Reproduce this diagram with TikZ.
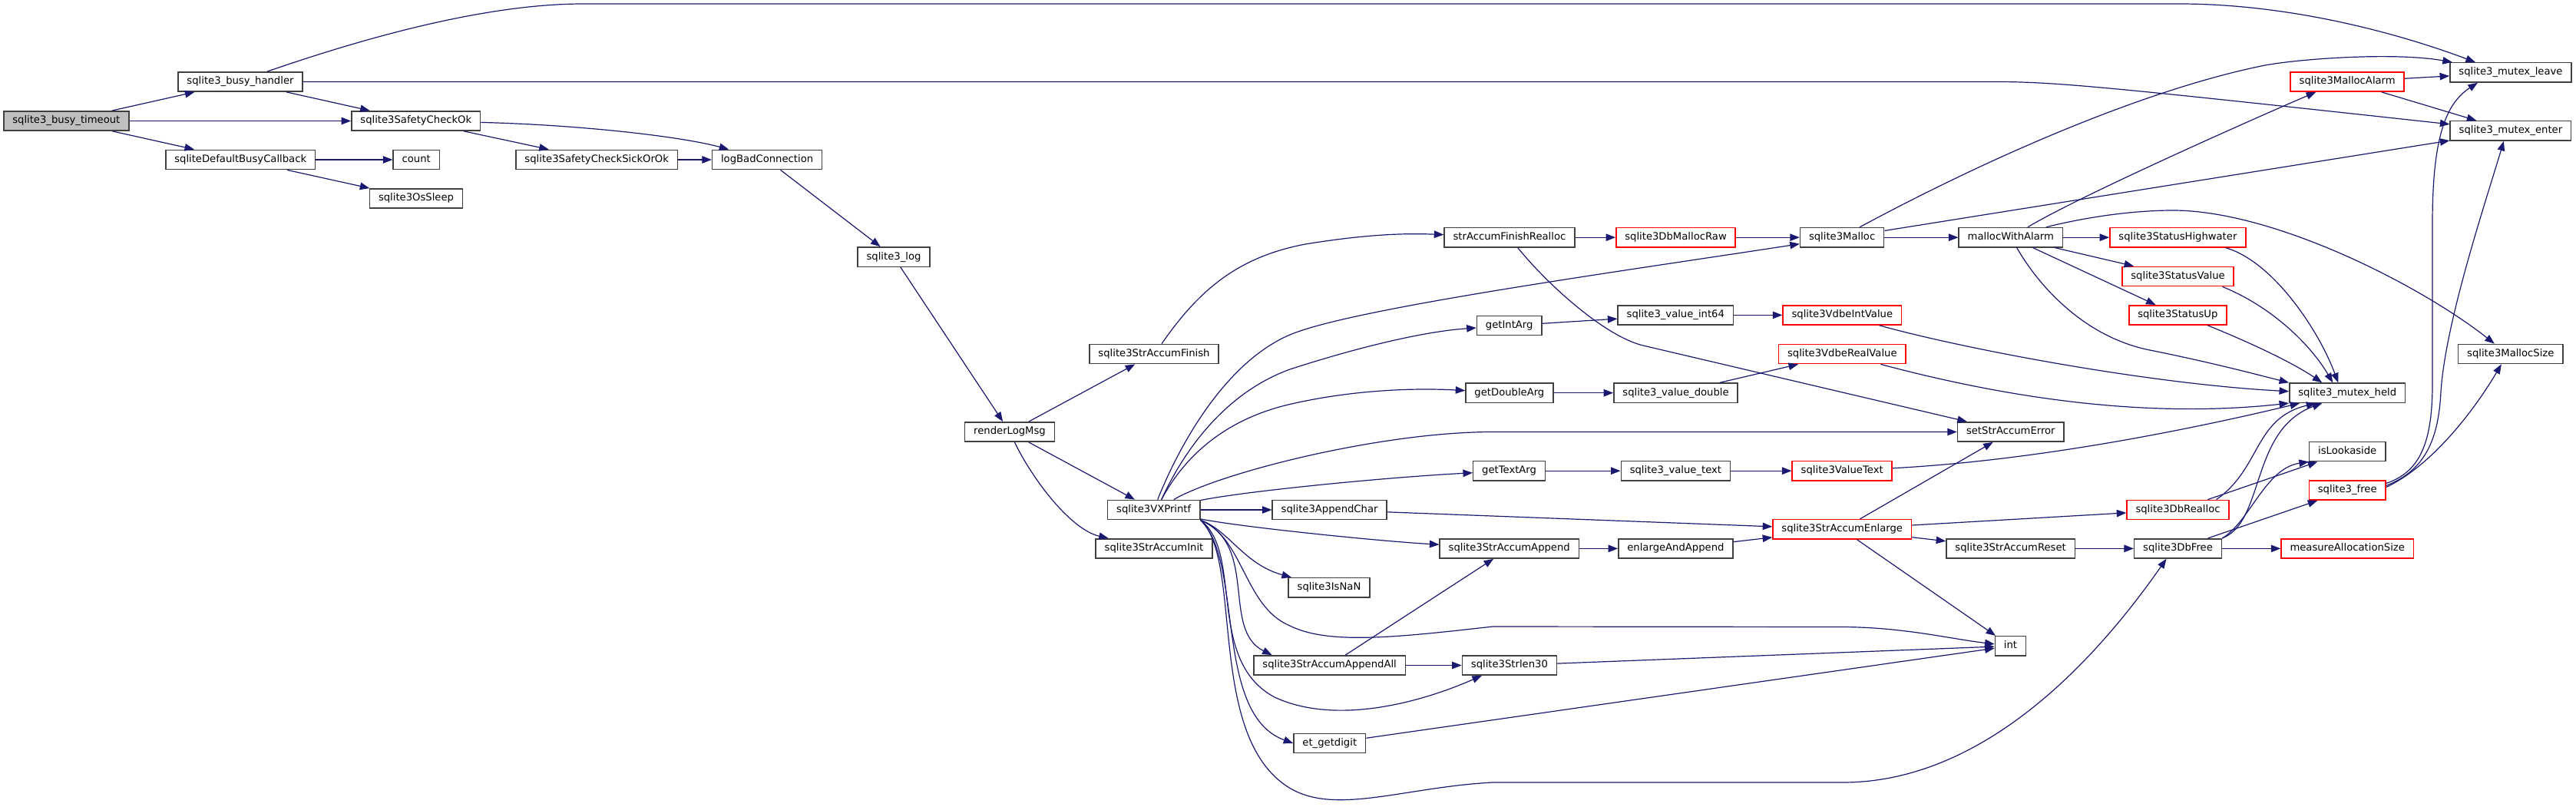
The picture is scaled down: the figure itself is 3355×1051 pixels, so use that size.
\documentclass[tikz,border=0pt]{standalone}
\usepackage{fontspec}
\setmainfont{DejaVu Sans}
\usetikzlibrary{arrows.meta}
\definecolor{edgeblue}{HTML}{191970}
\definecolor{boxgray}{HTML}{404040}
\definecolor{rootfill}{HTML}{BFBFBF}
\definecolor{boxred}{HTML}{FF0000}
\begin{document}
\begin{tikzpicture}[x=1pt,y=-1pt,
  fnbox/.style={draw=boxgray, line width=1.5pt, fill=white, inner xsep=11.5pt, inner ysep=0pt,
    minimum height=25.3pt, text height=9.8pt, text depth=3pt,
    font=\fontsize{13.17}{15}\selectfont, anchor=center},
  fnred/.style={fnbox, draw=boxred},
  fnroot/.style={fnbox, fill=rootfill},
  callarrow/.style={draw=edgeblue, line width=1.2pt, -{Triangle[length=12.5pt,width=9.5pt]}, line join=round}
]
\fill[white] (0,0) rectangle (3355,1051);
\useasboundingbox (0,0) rectangle (3355,1051);

% nodes
\node[fnroot] (T)   at (86.3,157.5)  {sqlite3\_busy\_timeout};
\node[fnbox]  (H)   at (313,106.5)   {sqlite3\_busy\_handler};
\node[fnbox]  (SCO) at (541.8,157.5) {sqlite3SafetyCheckOk};
\node[fnbox]  (DBC) at (313.2,208)   {sqliteDefaultBusyCallback};
\node[fnbox]  (CNT) at (542.2,208)   {count};
\node[fnbox]  (OSS) at (542,258.5)   {sqlite3OsSleep};
\node[fnbox]  (SSO) at (777.2,208)   {sqlite3SafetyCheckSickOrOk};
\node[fnbox]  (LBC) at (999.1,208)   {logBadConnection};
\node[fnbox]  (LOG) at (1164,334.6)  {sqlite3\_log};
\node[fnbox]  (RLM) at (1315,562.5)  {renderLogMsg};
\node[fnbox]  (SAF) at (1503,461)    {sqlite3StrAccumFinish};
\node[fnbox]  (VX)  at (1502.7,664)  {sqlite3VXPrintf};
\node[fnbox]  (SAI) at (1503,714.4)  {sqlite3StrAccumInit};
\node[fnbox]  (FR)  at (1965.9,309.2) {strAccumFinishRealloc};
\node[fnbox]  (GIA) at (1965.7,424)  {getIntArg};
\node[fnbox]  (GDA) at (1965.9,511.7) {getDoubleArg};
\node[fnbox]  (GTA) at (1965.6,613.2) {getTextArg};
\node[fnbox]  (AC)  at (1731.6,664)  {sqlite3AppendChar};
\node[fnbox]  (IN)  at (1731,765.3)  {sqlite3IsNaN};
\node[fnbox]  (AAA) at (1731.6,866.5) {sqlite3StrAccumAppendAll};
\node[fnbox]  (ETG) at (1731.8,968)  {et\_getdigit};
\node[fnbox]  (SAA) at (1965.7,714.4) {sqlite3StrAccumAppend};
\node[fnbox]  (SL)  at (1965.9,866.5) {sqlite3Strlen30};
\node[fnred]  (DMR) at (2182.5,309.2) {sqlite3DbMallocRaw};
\node[fnbox]  (VI64) at (2182.3,410.4) {sqlite3\_value\_int64};
\node[fnbox]  (VDB) at (2182.5,511.7) {sqlite3\_value\_double};
\node[fnbox]  (VTX) at (2182.4,613.2) {sqlite3\_value\_text};
\node[fnbox]  (EAA) at (2182.4,714.4) {enlargeAndAppend};
\node[fnbox]  (SM)  at (2399.1,309.2) {sqlite3Malloc};
\node[fnred]  (VIV) at (2399.3,410.4) {sqlite3VdbeIntValue};
\node[fnred]  (VRV) at (2399.3,461)  {sqlite3VdbeRealValue};
\node[fnred]  (VT)  at (2399.2,613.2) {sqlite3ValueText};
\node[fnred]  (SAE) at (2399.2,689.3) {sqlite3StrAccumEnlarge};
\node[fnbox]  (MWA) at (2618.8,309.2) {mallocWithAlarm};
\node[fnbox]  (SSE) at (2618.8,562.5) {setStrAccumError};
\node[fnbox]  (SAR) at (2618.6,714.4) {sqlite3StrAccumReset};
\node[fnbox]  (INT) at (2618.4,841.3) {int};
\node[fnred]  (SH)  at (2836.4,309.2) {sqlite3StatusHighwater};
\node[fnred]  (SV)  at (2836.5,360)  {sqlite3StatusValue};
\node[fnred]  (SU)  at (2836.3,410.4) {sqlite3StatusUp};
\node[fnred]  (DR)  at (2836.5,664)  {sqlite3DbRealloc};
\node[fnbox]  (DF)  at (2836.5,714.4) {sqlite3DbFree};
\node[fnred]  (MA)  at (3057.2,106.5) {sqlite3MallocAlarm};
\node[fnbox]  (MH)  at (3057.2,511.7) {sqlite3\_mutex\_held};
\node[fnbox]  (IL)  at (3057.2,588)  {isLookaside};
\node[fnred]  (SF)  at (3057.2,638.5) {sqlite3\_free};
\node[fnred]  (MAS) at (3057.2,714.4) {measureAllocationSize};
\node[fnbox]  (ML)  at (3269.9,94.4) {sqlite3\_mutex\_leave};
\node[fnbox]  (ME)  at (3269.9,170.4) {sqlite3\_mutex\_enter};
\node[fnbox]  (MS)  at (3269.8,461)  {sqlite3MallocSize};

% edges
\draw[callarrow] (T) -- (H);
\draw[callarrow] (T) -- (SCO);
\draw[callarrow] (T) -- (DBC);
\draw[callarrow] ([xshift=35pt]H.north) .. controls (450,58) and (620,5) .. (760,5) -- (2838,5) .. controls (2980,5) and (3120,42) .. ([xshift=-46pt]ML.north);
\draw[callarrow] (H) -- (2600,106.5) .. controls (2680,106.5) and (2760,115) .. (ME);
\draw[callarrow] (H) -- (SCO);
\draw[callarrow] (SCO) -- (SSO);
\draw[callarrow] (SCO) .. controls (740,162) and (880,176) .. (LBC);
\draw[callarrow] (SSO) -- (LBC);
\draw[callarrow] (DBC) -- (CNT);
\draw[callarrow] (DBC) -- (OSS);
\draw[callarrow] (LBC) -- (LOG);
\draw[callarrow] (LOG) -- (RLM);
\draw[callarrow] (RLM) -- (SAF);
\draw[callarrow] (RLM) -- (VX);
\draw[callarrow] (RLM) .. controls (1345,625) and (1395,690) .. (SAI);
\draw[callarrow] ([xshift=10pt]SAF.north) .. controls (1560,380) and (1610,335) .. (1700,318) .. controls (1780,305) and (1830,303.6) .. (FR);
\draw[callarrow] (FR) -- (DMR);
\draw[callarrow] (FR) .. controls (2015,370) and (2090,438) .. (2140,450) -- (SSE);
\draw[callarrow] (DMR) -- (SM);
% sqlite3VXPrintf
\draw[callarrow] ([xshift=5pt]VX.north) .. controls (1540,570) and (1600,470) .. (1680,436) .. controls (1760,402) and (2100,355) .. (SM);
\draw[callarrow] ([xshift=10pt]VX.north) .. controls (1545,580) and (1600,510) .. (1680,481) .. controls (1760,455) and (1850,432) .. (GIA);
\draw[callarrow] ([xshift=10pt]VX.north) .. controls (1545,590) and (1600,545) .. (1680,526.5) .. controls (1760,508) and (1840,505) .. (GDA);
\draw[callarrow] ([xshift=26pt]VX.north) .. controls (1590,615) and (1800,562.5) .. (1944,562.5) -- (SSE);
\draw[callarrow] (VX) .. controls (1620,640) and (1800,622) .. (GTA);
\draw[callarrow] (VX) -- (AC);
\draw[callarrow] (VX) .. controls (1620,687) and (1800,705) .. (SAA);
\draw[callarrow] (VX.south east) .. controls (1600,690) and (1620,735) .. (IN);
\draw[callarrow] (VX.south east) .. controls (1620,700) and (1620,790) .. (1680,815) .. controls (1730,840) and (1820,830) .. (1944,816) -- (2400,816.5) .. controls (2480,817) and (2540,832) .. (INT);
\draw[callarrow] (VX.south east) .. controls (1640,710) and (1590,820) .. ([xshift=-75pt]AAA.north);
\draw[callarrow] (VX.south east) .. controls (1620,720) and (1570,860) .. (1660,908) .. controls (1740,945) and (1850,915) .. ([xshift=-36pt]SL.south);
\draw[callarrow] (VX.south east) .. controls (1620,730) and (1580,930) .. (ETG.west);
\draw[callarrow] (VX.south east) .. controls (1620,730) and (1570,960) .. (1680,1026.5) .. controls (1740,1062) and (1830,1025) .. (1944,1019) -- (2400,1019) .. controls (2600,1019) and (2750,830) .. ([xshift=-15pt]DF.south);
% middle
\draw[callarrow] (AC) -- (SAE);
\draw[callarrow] (SAA) -- (EAA);
\draw[callarrow] (EAA) -- (SAE);
\draw[callarrow] (AAA) -- (SAA);
\draw[callarrow] (AAA) -- (SL);
\draw[callarrow] (SL) -- (INT);
\draw[callarrow] (ETG) -- (INT);
\draw[callarrow] (GIA) -- (VI64);
\draw[callarrow] (VI64) -- (VIV);
\draw[callarrow] (GDA) -- (VDB);
\draw[callarrow] (VDB) -- (VRV);
\draw[callarrow] (GTA) -- (VTX);
\draw[callarrow] (VTX) -- (VT);
\draw[callarrow] (VIV) .. controls (2560,455) and (2800,500) .. ([yshift=2pt]MH.west);
\draw[callarrow] (VRV) .. controls (2620,520) and (2800,545) .. (MH.south west);
\draw[callarrow] (VT) .. controls (2650,600) and (2850,560) .. ([xshift=-62pt]MH.south);
% sqlite3Malloc and mallocWithAlarm
\draw[callarrow] ([xshift=23pt]SM.north) .. controls (2600,200) and (2800,115) .. (2950,85) .. controls (3000,76) and (3120,68) .. (ML);
\draw[callarrow] (SM) -- (ME);
\draw[callarrow] (SM) -- (MWA);
\draw[callarrow] (MWA) .. controls (2700,260) and (2900,170) .. ([xshift=-41pt]MA.south);
\draw[callarrow] ([xshift=46pt]MWA.north) .. controls (2720,282) and (2780,274) .. (2830,274) .. controls (2960,274) and (3150,370) .. ([xshift=-21pt]MS.north);
\draw[callarrow] (MWA) -- (SH);
\draw[callarrow] (MWA) -- (SV);
\draw[callarrow] (MWA) -- (SU);
\draw[callarrow] (MWA) .. controls (2660,380) and (2720,440) .. (2800,456) .. controls (2880,472) and (2940,488) .. (MH.north west);
\draw[callarrow] ([xshift=62pt]SH.south) .. controls (2960,340) and (3020,430) .. ([xshift=-12pt]MH.north);
\draw[callarrow] ([xshift=58pt]SV.south) .. controls (2960,400) and (3010,450) .. ([xshift=-19pt]MH.north);
\draw[callarrow] ([xshift=39pt]SU.south) .. controls (2940,450) and (2990,475) .. ([xshift=-33pt]MH.north);
\draw[callarrow] (MA) -- (ML);
\draw[callarrow] (MA) -- (ME);
% enlarge / free
\draw[callarrow] (SAE) -- (SSE);
\draw[callarrow] (SAE) -- (DR);
\draw[callarrow] (SAE) -- (SAR);
\draw[callarrow] (SAE) -- (INT);
\draw[callarrow] (SAR) -- (DF);
\draw[callarrow] (DR) -- (IL);
\draw[callarrow] ([xshift=50pt]DR.north) .. controls (2945,610) and (2935,545) .. ([xshift=-41pt]MH.south);
\draw[callarrow] (DF.north east) .. controls (2930,680) and (2950,610) .. (IL.south west);
\draw[callarrow] (DF.north east) .. controls (2950,680) and (2930,560) .. ([xshift=-33pt]MH.south);
\draw[callarrow] (DF) -- (SF);
\draw[callarrow] (DF) -- (MAS);
\draw[callarrow] ([yshift=9pt]SF.east) .. controls (3150,615) and (3168,580) .. (3168,500) -- (3168,290) .. controls (3168,180) and (3185,135) .. ([xshift=-43pt]ML.south);
\draw[callarrow] ([yshift=6pt]SF.east) .. controls (3160,612) and (3176,570) .. (3179,510) .. controls (3185,420) and (3235,270) .. ([xshift=-9pt]ME.south);
\draw[callarrow] ([yshift=4pt]SF.east) .. controls (3170,605) and (3225,530) .. ([xshift=-12pt]MS.south);
\end{tikzpicture}
\end{document}
